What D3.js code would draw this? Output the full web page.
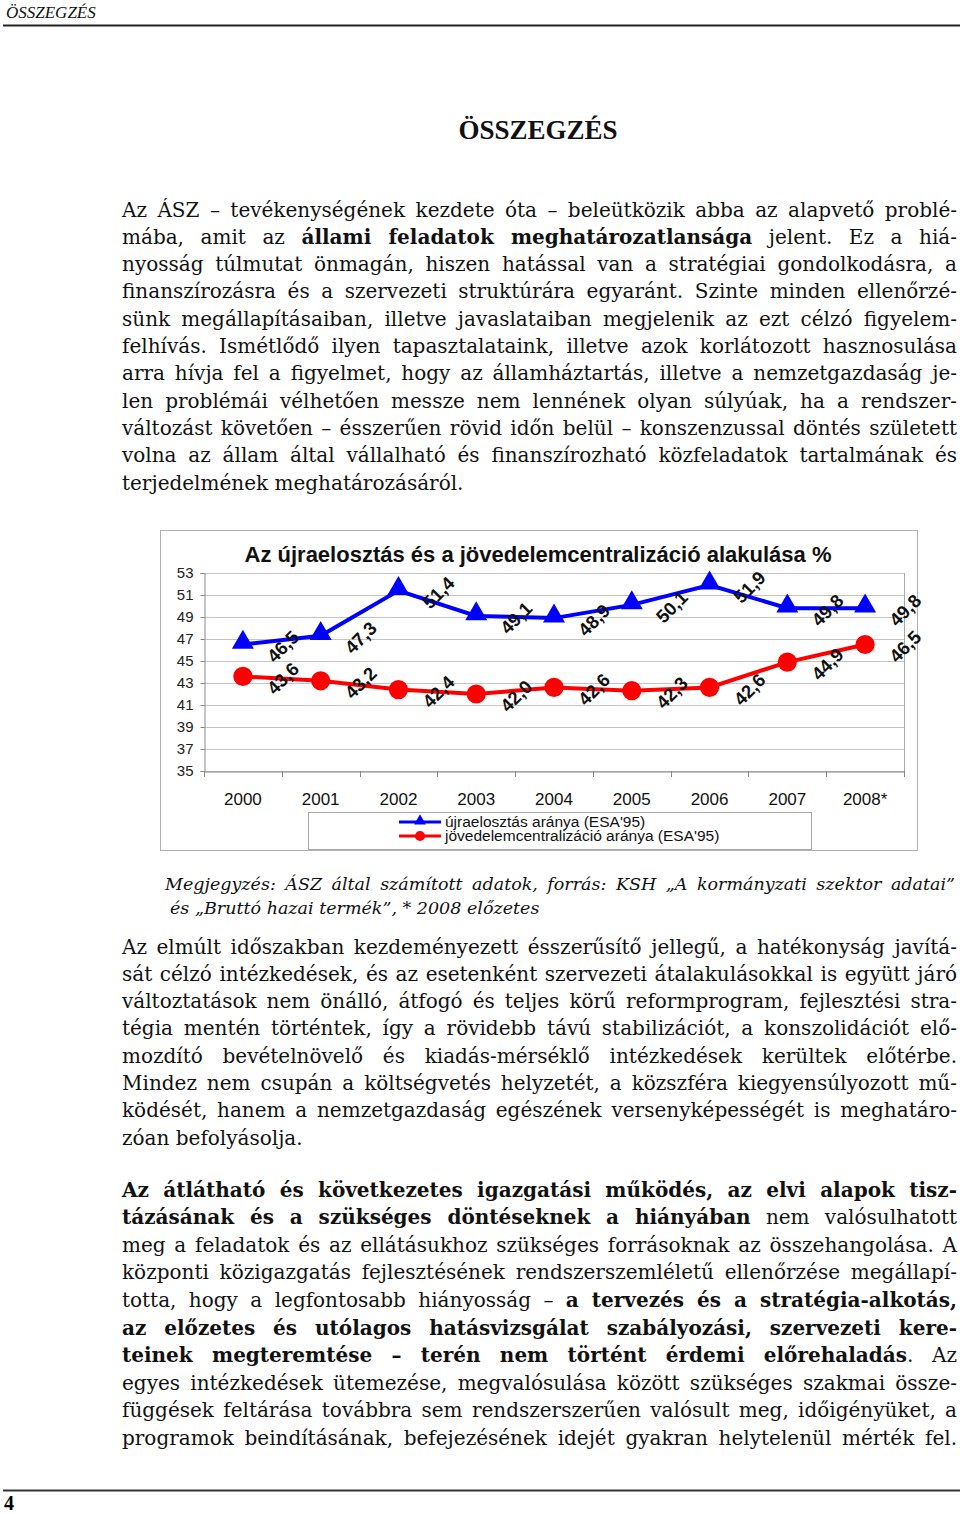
<!DOCTYPE html>
<html>
<head>
<meta charset="utf-8">
<script src="https://cdn.jsdelivr.net/npm/d3@7"></script>
<style>
  body { margin: 0; background: #fff; }
  svg { display: block; }
</style>
</head>
<body>
<div id="page"></div>
<script>
// chart data
const years = ['2000', '2001', '2002', '2003', '2004', '2005', '2006', '2007', '2008*']
const redistribution = [46.5, 47.3, 51.4, 49.1, 48.9, 50.1, 51.9, 49.8, 49.8]
const centralization = [43.6, 43.2, 42.4, 42.0, 42.6, 42.3, 42.6, 44.9, 46.5]
const yTicks = [35, 37, 39, 41, 43, 45, 47, 49, 51, 53]
const seriesNames = ['újraelosztás aránya (ESA\'95)', 'jövedelemcentralizáció aránya (ESA\'95)']
const chartTitle = 'Az újraelosztás és a jövedelemcentralizáció alakulása %'

// page text, ~...~ = bold
const para1 = [
	'Az ÁSZ – tevékenységének kezdete óta – beleütközik abba az alapvető problé-',
	'mába, amit az ~állami feladatok meghatározatlansága~ jelent. Ez a hiá-',
	'nyosság túlmutat önmagán, hiszen hatással van a stratégiai gondolkodásra, a',
	'finanszírozásra és a szervezeti struktúrára egyaránt. Szinte minden ellenőrzé-',
	'sünk megállapításaiban, illetve javaslataiban megjelenik az ezt célzó figyelem-',
	'felhívás. Ismétlődő ilyen tapasztalataink, illetve azok korlátozott hasznosulása',
	'arra hívja fel a figyelmet, hogy az államháztartás, illetve a nemzetgazdaság je-',
	'len problémái vélhetően messze nem lennének olyan súlyúak, ha a rendszer-',
	'változást követően – ésszerűen rövid időn belül – konszenzussal döntés született',
	'volna az állam által vállalható és finanszírozható közfeladatok tartalmának és',
	'terjedelmének meghatározásáról.'
]
const noteLines = [
	'Megjegyzés: ÁSZ által számított adatok, forrás: KSH „A kormányzati szektor adatai”',
	'és „Bruttó hazai termék”, * 2008 előzetes'
]
const para2 = [
	'Az elmúlt időszakban kezdeményezett ésszerűsítő jellegű, a hatékonyság javítá-',
	'sát célzó intézkedések, és az esetenként szervezeti átalakulásokkal is együtt járó',
	'változtatások nem önálló, átfogó és teljes körű reformprogram, fejlesztési stra-',
	'tégia mentén történtek, így a rövidebb távú stabilizációt, a konszolidációt elő-',
	'mozdító bevételnövelő és kiadás-mérséklő intézkedések kerültek előtérbe.',
	'Mindez nem csupán a költségvetés helyzetét, a közszféra kiegyensúlyozott mű-',
	'ködését, hanem a nemzetgazdaság egészének versenyképességét is meghatáro-',
	'zóan befolyásolja.'
]
const para3 = [
	'~Az átlátható és következetes igazgatási működés, az elvi alapok tisz-~',
	'~tázásának és a szükséges döntéseknek a hiányában~ nem valósulhatott',
	'meg a feladatok és az ellátásukhoz szükséges forrásoknak az összehangolása. A',
	'központi közigazgatás fejlesztésének rendszerszemléletű ellenőrzése megállapí-',
	'totta, hogy a legfontosabb hiányosság – ~a tervezés és a stratégia-alkotás,~',
	'~az előzetes és utólagos hatásvizsgálat szabályozási, szervezeti kere-~',
	'~teinek megteremtése – terén nem történt érdemi előrehaladás~. Az',
	'egyes intézkedések ütemezése, megvalósulása között szükséges szakmai össze-',
	'függések feltárása továbbra sem rendszerszerűen valósult meg, időigényüket, a',
	'programok beindításának, befejezésének idejét gyakran helytelenül mérték fel.'
]

const W = 960
const H = 1514
const TEXT_LEFT = 122
const TEXT_RIGHT = 957
const BODY_FONT = '"DejaVu Serif", serif'
const BODY_SIZE = 20
const CHART_FONT = '"Liberation Sans", Arial, sans-serif'

const svg = d3.select('#page').append('svg')
	.attr('width', W)
	.attr('height', H)

// header / footer
svg.append('text')
	.attr('x', 6).attr('y', 18)
	.attr('font-family', '"Liberation Serif", serif')
	.attr('font-style', 'italic')
	.attr('font-size', 17)
	.attr('fill', '#111')
	.text('ÖSSZEGZÉS')

svg.append('line')
	.attr('x1', 3).attr('x2', 960).attr('y1', 25.5).attr('y2', 25.5)
	.attr('stroke', '#222').attr('stroke-width', 2)

svg.append('line')
	.attr('x1', 3).attr('x2', 960).attr('y1', 1490.5).attr('y2', 1490.5)
	.attr('stroke', '#333').attr('stroke-width', 2)

svg.append('text')
	.attr('x', 4).attr('y', 1510)
	.attr('font-family', '"Liberation Serif", serif')
	.attr('font-weight', 'bold')
	.attr('font-size', 20)
	.text('4')

svg.append('text')
	.attr('x', 538).attr('y', 139)
	.attr('text-anchor', 'middle')
	.attr('font-family', '"Liberation Serif", serif')
	.attr('font-weight', 'bold')
	.attr('font-size', 27)
	.attr('fill', '#111')
	.text('ÖSSZEGZÉS')

// one text line, optionally justified via word-spacing
function drawLine(str, x, y, opts) {
	const t = svg.append('text')
		.attr('x', x).attr('y', y)
		.attr('font-family', BODY_FONT)
		.attr('font-size', opts.size || BODY_SIZE)
		.attr('font-style', opts.italic ? 'italic' : null)
		.attr('fill', '#111')
		.attr('xml:space', 'preserve')
	str.split('~').forEach((part, i) => {
		if (!part) return
		t.append('tspan')
			.attr('font-weight', i % 2 ? 'bold' : null)
			.text(part)
	})
	if (opts.justify) {
		const natural = t.node().getComputedTextLength()
		const spaces = (str.match(/ /g) || []).length
		if (spaces) t.attr('word-spacing', (opts.right - x - natural) / spaces)
	}
}

function drawParagraph(lines, top, step, lastJustified) {
	lines.forEach((l, i) => {
		const last = i === lines.length - 1
		drawLine(l, TEXT_LEFT, top + i * step + 6.5, { justify: !last || lastJustified, right: TEXT_RIGHT })
	})
}

drawParagraph(para1, 210, 27.3, false)
drawParagraph(para2, 947, 27.3, false)
drawParagraph(para3, 1190, 27.6, true)

drawLine(noteLines[0], 165, 890, { italic: true, justify: true, right: 955, size: 17.5 })
drawLine(noteLines[1], 170, 914, { italic: true, size: 17.5 })

// ---- chart ----
const plot = { left: 204, right: 904, top: 573, bottom: 771 }

svg.append('rect')
	.attr('x', 160.5).attr('y', 530.5)
	.attr('width', 757).attr('height', 320)
	.attr('fill', '#fff').attr('stroke', '#b0b0b0')

const x = d3.scaleBand().domain(years).range([plot.left, plot.right])
const y = d3.scaleLinear().domain([35, 53]).range([plot.bottom, plot.top])
const cx = d => x(d) + x.bandwidth() / 2

const chart = svg.append('g').attr('class', 'chart')

// grid
chart.append('g')
	.selectAll('line')
	.data(yTicks)
	.enter().append('line')
		.attr('x1', plot.left).attr('x2', plot.right)
		.attr('y1', d => Math.round(y(d)) + 0.5)
		.attr('y2', d => Math.round(y(d)) + 0.5)
		.attr('stroke', '#c4c4c4')

chart.append('line')
	.attr('x1', plot.right + 0.5).attr('x2', plot.right + 0.5)
	.attr('y1', plot.top).attr('y2', plot.bottom)
	.attr('stroke', '#a8a8a8')

// y axis
const yAxis = chart.append('g')
	.attr('transform', `translate(${plot.left + 0.5},0)`)
	.call(d3.axisLeft(y).tickValues(yTicks).tickSize(4).tickPadding(7))
yAxis.select('.domain').attr('stroke', '#888')
yAxis.selectAll('.tick line').attr('stroke', '#888')
yAxis.selectAll('text')
	.attr('font-family', CHART_FONT)
	.attr('font-size', 15)
	.attr('fill', '#222')

// x axis
const xAxis = chart.append('g')
	.attr('transform', `translate(0,${Math.round(plot.bottom) + 0.5})`)
	.call(d3.axisBottom(x).tickSize(0).tickPadding(21))
xAxis.select('.domain').attr('stroke', '#888')
xAxis.selectAll('text')
	.attr('font-family', CHART_FONT)
	.attr('font-size', 17)
	.attr('fill', '#111')
chart.append('g')
	.selectAll('line')
	.data(years.concat(['end']))
	.enter().append('line')
		.attr('x1', (d, i) => Math.round(plot.left + i * x.bandwidth()) + 0.5)
		.attr('x2', (d, i) => Math.round(plot.left + i * x.bandwidth()) + 0.5)
		.attr('y1', plot.bottom)
		.attr('y2', plot.bottom + 6)
		.attr('stroke', '#888')

// title
svg.append('text')
	.attr('x', 538).attr('y', 562)
	.attr('text-anchor', 'middle')
	.attr('font-family', CHART_FONT)
	.attr('font-weight', 'bold')
	.attr('font-size', 22)
	.attr('fill', '#111')
	.text(chartTitle)

const series = [
	{ values: redistribution, color: '#0000ff', symbol: d3.symbolTriangle, size: 210 },
	{ values: centralization, color: '#ff0000', symbol: d3.symbolCircle, size: 290 }
]

const fmt = v => d3.format('.1f')(v).replace('.', ',')

series.forEach((s) => {
	const line = d3.line()
		.x((d, i) => cx(years[i]))
		.y(d => y(d))

	chart.append('path')
		.datum(s.values)
		.attr('d', line)
		.attr('fill', 'none')
		.attr('stroke', s.color)
		.attr('stroke-width', 4)

	chart.append('g')
		.selectAll('path')
		.data(s.values)
		.enter().append('path')
			.attr('d', d3.symbol().type(s.symbol).size(s.size))
			.attr('transform', (d, i) => `translate(${cx(years[i])},${y(d) + (s.symbol === d3.symbolTriangle ? -2 : 0)})`)
			.attr('fill', s.color)

	chart.append('g')
		.selectAll('text')
		.data(s.values)
		.enter().append('text')
			.attr('transform', (d, i) => `translate(${cx(years[i]) + 40},${y(d) + 2}) rotate(-45)`)
			.attr('text-anchor', 'middle')
			.attr('dominant-baseline', 'central')
			.attr('font-family', CHART_FONT)
			.attr('font-weight', 'bold')
			.attr('font-size', 18.5)
			.attr('fill', '#111')
			.text(fmt)
})

// legend
const legend = svg.append('g').attr('class', 'legend')
legend.append('rect')
	.attr('x', 308.5).attr('y', 812.5)
	.attr('width', 503).attr('height', 37)
	.attr('fill', '#fff').attr('stroke', '#a8a8a8')

series.forEach((s, i) => {
	const ly = 822 + i * 14
	legend.append('line')
		.attr('x1', 399).attr('x2', 441)
		.attr('y1', ly).attr('y2', ly)
		.attr('stroke', s.color).attr('stroke-width', 3)
	legend.append('path')
		.attr('d', d3.symbol().type(s.symbol).size(s.symbol === d3.symbolTriangle ? 60 : 80))
		.attr('transform', `translate(420,${ly - (s.symbol === d3.symbolTriangle ? 1 : 0)})`)
		.attr('fill', s.color)
	legend.append('text')
		.attr('x', 445).attr('y', ly + 5)
		.attr('font-family', CHART_FONT)
		.attr('font-size', 15.5)
		.attr('fill', '#111')
		.text(seriesNames[i])
})
</script>
</body>
</html>
